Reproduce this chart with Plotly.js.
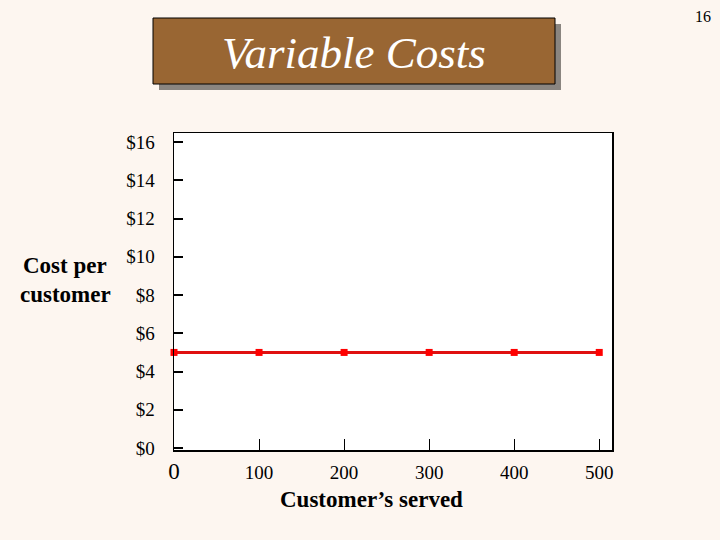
<!DOCTYPE html>
<html>
<head>
<meta charset="utf-8">
<script src="https://cdn.plot.ly/plotly-3.0.1.min.js"></script>
<style>
  html, body { margin: 0; padding: 0; background: #fdf6f0; }
  #chart { width: 720px; height: 540px; }
</style>
</head>
<body>
<div id="chart"></div>
<script>
// customers served vs. variable cost per customer
const customers = [0, 100, 200, 300, 400, 500];
const costPerCustomer = [5, 5, 5, 5, 5, 5];

const yTicks = [0, 2, 4, 6, 8, 10, 12, 14, 16];
const yTickText = yTicks.map(v => '$' + v);
const xTicks = [0, 100, 200, 300, 400, 500];
const xTickText = ['<span style="font-size:23px">0</span>', '100', '200', '300', '400', '500'];

const serif = 'Liberation Serif, Times New Roman, serif';

// plot area in page pixels
const L = 174, R = 612, T = 133, B = 450;
const px = x => (x - L) / (R - L);
const py = y => (B - y) / (B - T);

const trace = {
    type: 'scatter',
    mode: 'lines+markers',
    x: customers,
    y: costPerCustomer,
    line: {color: '#e01010', width: 3},
    marker: {symbol: 'square', size: 7, color: '#ff0000'},
    cliponaxis: false,
    hoverinfo: 'skip'
};

function note(text, x, y, size, extra) {
    return Object.assign({
        text: text, xref: 'paper', yref: 'paper',
        x: px(x), y: py(y), xanchor: 'center', yanchor: 'middle',
        showarrow: false, font: {family: serif, size: size, color: '#000'}
    }, extra || {});
}

const layout = {
    width: 720,
    height: 540,
    margin: {l: L, r: 720 - R, t: T, b: 540 - B},
    paper_bgcolor: '#fdf6f0',
    plot_bgcolor: '#ffffff',
    showlegend: false,
    font: {family: serif, color: '#000', size: 19},
    xaxis: {
        range: [0, 515],
        tickvals: xTicks,
        ticktext: xTickText,
        ticks: 'inside',
        ticklen: 11,
        tickwidth: 1,
        tickcolor: '#000',
        showgrid: false,
        zeroline: false,
        showline: true,
        linecolor: '#000',
        linewidth: 1.5,
        mirror: true,
        ticklabelstandoff: 5,
        tickfont: {family: serif, size: 19}
    },
    yaxis: {
        range: [-0.1, 16.47],
        tickvals: yTicks,
        ticktext: yTickText,
        ticks: 'inside',
        ticklen: 9,
        tickwidth: 2,
        tickcolor: '#000',
        showgrid: false,
        zeroline: false,
        showline: true,
        linecolor: '#000',
        linewidth: 1.5,
        mirror: true,
        ticklabelstandoff: 14,
        tickfont: {family: serif, size: 19}
    },
    shapes: [
        // title box shadow
        {type: 'rect', xref: 'paper', yref: 'paper',
         x0: px(159), x1: px(561), y0: py(90), y1: py(24),
         fillcolor: '#8a8580', line: {width: 0}},
        // title box
        {type: 'rect', xref: 'paper', yref: 'paper',
         x0: px(153), x1: px(555), y0: py(84), y1: py(18),
         fillcolor: '#996633', line: {color: '#000', width: 1}}
    ],
    annotations: [
        note('Variable Costs', 354, 53, 45, {font: {family: serif, size: 45, color: '#ffffff', style: 'italic'}}),
        note('16', 703, 16, 16),
        note('<b>Cost per</b>', 65, 265, 23),
        note('<b>customer</b>', 65, 294, 23),
        note('<b>Customer’s served</b>', 371, 499, 23)
    ]
};

Plotly.newPlot('chart', [trace], layout, {displayModeBar: false, staticPlot: true});
</script>
</body>
</html>
